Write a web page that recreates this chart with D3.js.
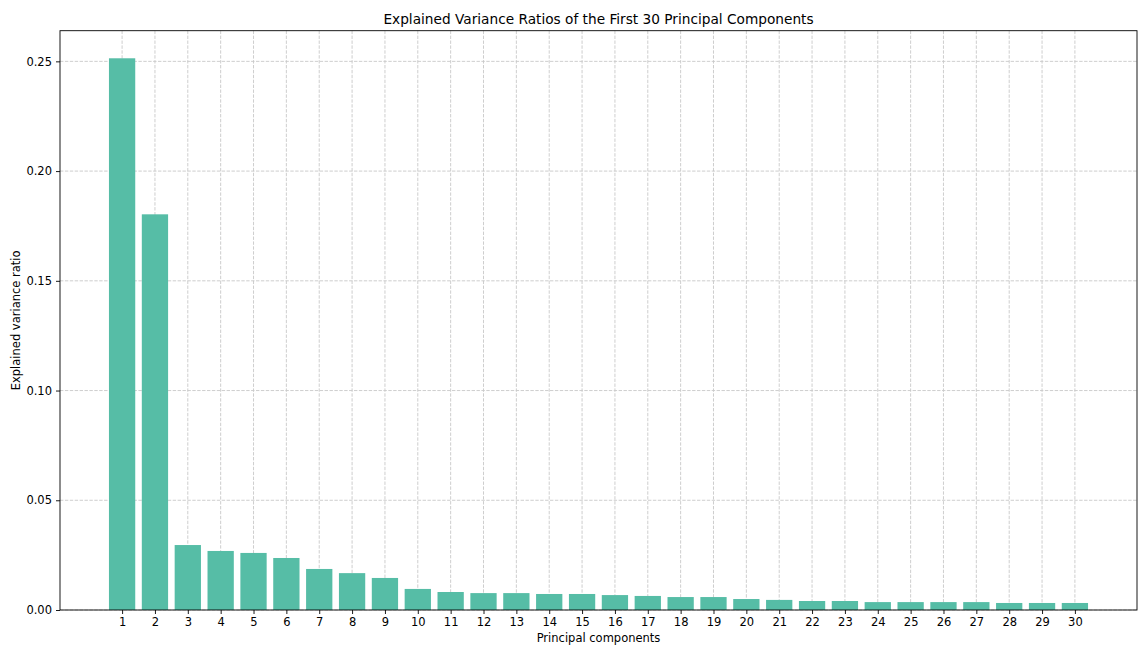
<!DOCTYPE html>
<html>
<head>
<meta charset="utf-8">
<script src="https://cdn.jsdelivr.net/npm/d3@7"></script>
<style>
  html, body { margin: 0; padding: 0; background: #ffffff; }
  svg { display: block; font-family: "DejaVu Sans", sans-serif; }
</style>
</head>
<body>
<svg id="chart" width="1139" height="645"></svg>
<script>
// Principal component indices and their explained variance ratios
const components = d3.range(1, 31);
const varianceRatios = [
  0.2514, 0.1803, 0.0296, 0.0269, 0.0260, 0.0237, 0.0187, 0.0168, 0.0146, 0.0096,
  0.0082, 0.0077, 0.0077, 0.0073, 0.0073, 0.0068, 0.0064, 0.0059, 0.0059, 0.0050,
  0.0046, 0.0041, 0.0041, 0.0036, 0.0036, 0.0036, 0.0036, 0.0032, 0.0032, 0.0032
];
const yTicks = [0, 0.05, 0.10, 0.15, 0.20, 0.25];

const titleText = "Explained Variance Ratios of the First 30 Principal Components";
const xLabelText = "Principal components";
const yLabelText = "Explained variance ratio";

const barColor = "#56bda6";
const gridColor = "#c8c8c8";
const tickFont = "11.5px";

const svg = d3.select("#chart");
const margin = { left: 60, right: 2, top: 30.7, bottom: 35 };
const W = 1139, H = 645;
const plotW = W - margin.left - margin.right;
const plotH = H - margin.top - margin.bottom;

const barWidth = 0.8;
const xLo = components[0] - barWidth / 2, xHi = components[components.length - 1] + barWidth / 2;
const xPad = (xHi - xLo) * 0.05;
const x = d3.scaleLinear().domain([xLo - xPad, xHi + xPad]).range([0, plotW]);
const y = d3.scaleLinear().domain([0, d3.max(varianceRatios) * 1.05]).range([plotH, 0]);

const g = svg.append("g").attr("transform", `translate(${margin.left},${margin.top})`);

// dashed grid on both axes
g.append("g").selectAll("line").data(components).join("line")
  .attr("x1", d => x(d)).attr("x2", d => x(d))
  .attr("y1", 0).attr("y2", plotH)
  .attr("stroke", gridColor).attr("stroke-width", 0.9)
  .attr("stroke-dasharray", "3.4,1.5");
g.append("g").selectAll("line").data(yTicks).join("line")
  .attr("x1", 0).attr("x2", plotW)
  .attr("y1", d => y(d)).attr("y2", d => y(d))
  .attr("stroke", gridColor).attr("stroke-width", 0.9)
  .attr("stroke-dasharray", "3.4,1.5");

// bars
g.append("g").selectAll("rect").data(components).join("rect")
  .attr("x", d => x(d - barWidth / 2))
  .attr("width", d => x(d + barWidth / 2) - x(d - barWidth / 2))
  .attr("y", (d, i) => y(varianceRatios[i]))
  .attr("height", (d, i) => y(0) - y(varianceRatios[i]))
  .attr("fill", barColor);

// axes
const xAxis = d3.axisBottom(x).tickValues(components).tickFormat(d3.format("d"))
  .tickSizeInner(4).tickSizeOuter(0).tickPadding(4);
const yAxis = d3.axisLeft(y).tickValues(yTicks).tickFormat(d3.format(".2f"))
  .tickSizeInner(4).tickSizeOuter(0).tickPadding(4);

const gx = g.append("g").attr("transform", `translate(0,${plotH})`).call(xAxis);
const gy = g.append("g").call(yAxis);
[gx, gy].forEach(a => {
  a.select(".domain").remove();
  a.selectAll(".tick line").attr("stroke", "#000").attr("stroke-width", 0.9);
  a.selectAll(".tick text").attr("fill", "#000").style("font-size", tickFont)
    .style("font-family", "'DejaVu Sans', sans-serif");
});

// frame
g.append("rect").attr("x", 0).attr("y", 0).attr("width", plotW).attr("height", plotH)
  .attr("fill", "none").attr("stroke", "#000").attr("stroke-width", 0.9);

// title and axis labels
svg.append("text").attr("x", margin.left + plotW / 2).attr("y", 24)
  .attr("text-anchor", "middle").style("font-size", "13.7px").text(titleText);
svg.append("text").attr("x", margin.left + plotW / 2).attr("y", 642)
  .attr("text-anchor", "middle").style("font-size", tickFont).text(xLabelText);
svg.append("text").attr("transform", `translate(20,${margin.top + plotH / 2}) rotate(-90)`)
  .attr("text-anchor", "middle").style("font-size", tickFont).text(yLabelText);
</script>
</body>
</html>
